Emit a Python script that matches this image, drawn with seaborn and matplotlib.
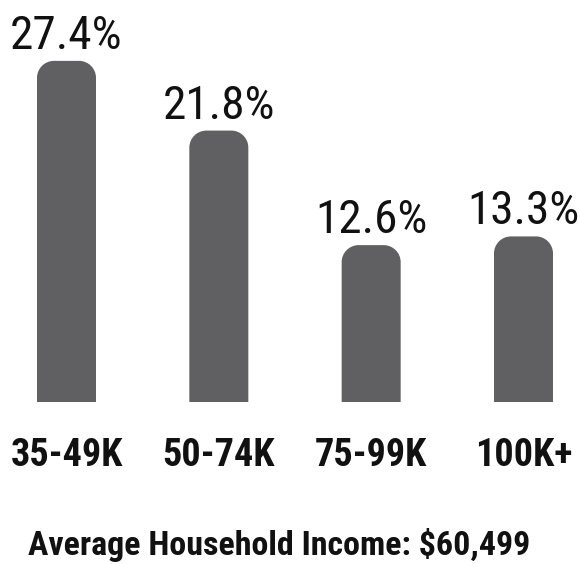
import matplotlib
matplotlib.use("Agg")
import matplotlib.pyplot as plt
from matplotlib.path import Path
from matplotlib.patches import PathPatch
import seaborn as sns

# Share of households by income bracket
categories = ["35-49K", "50-74K", "75-99K", "100K+"]
values = [27.4, 21.8, 12.6, 13.3]
value_labels = ["27.4%", "21.8%", "12.6%", "13.3%"]
footer = "Average Household Income: $60,499"

BAR_COLOR = "#606062"
TEXT_COLOR = "#111111"

sns.set_theme(style="white")
plt.rcParams["font.family"] = ["Roboto Condensed", "Fira Sans Condensed", "DejaVu Sans"]

W, H, DPI = 5.8, 5.64, 100
fig = plt.figure(figsize=(W, H), dpi=DPI)
fig.patch.set_facecolor("white")

# axes spans the full width; baseline sits 162 px above the bottom edge
base_px = 162
ax = fig.add_axes([0, base_px / (H * DPI), 1, 1 - base_px / (H * DPI)])

step_px = 152.33          # distance between bar centres
first_px = 66.5           # centre of the first bar
px_per_unit = 12.45       # vertical pixels per percentage point

sns.barplot(x=categories, y=values, color=BAR_COLOR, saturation=1,
            width=59 / step_px, ax=ax)

ax.set_xlim(-first_px / step_px, (W * DPI - first_px) / step_px)
ax.set_ylim(0, (H * DPI - base_px) / px_per_unit)

# replace the square bars with rounded-top shapes
rx = 17 / step_px
ry = 17 / px_per_unit
k = 0.5523
bars = list(ax.patches)
for p in bars:
    x0 = p.get_x()
    x1 = x0 + p.get_width()
    h = p.get_height()
    verts = [
        (x0, 0), (x0, h - ry),
        (x0, h - ry + k * ry), (x0 + rx - k * rx, h), (x0 + rx, h),
        (x1 - rx, h),
        (x1 - rx + k * rx, h), (x1, h - ry + k * ry), (x1, h - ry),
        (x1, 0), (x0, 0),
    ]
    codes = [Path.MOVETO, Path.LINETO,
             Path.CURVE4, Path.CURVE4, Path.CURVE4,
             Path.LINETO,
             Path.CURVE4, Path.CURVE4, Path.CURVE4,
             Path.LINETO, Path.CLOSEPOLY]
    ax.add_patch(PathPatch(Path(verts, codes), facecolor=BAR_COLOR,
                           edgecolor="none", linewidth=0))
    p.remove()

# value labels above each bar
for i, (v, lab) in enumerate(zip(values, value_labels)):
    ax.annotate(lab, xy=(i, v), xytext=(0, 12), textcoords="offset pixels",
                ha="center", va="baseline", fontsize=34, color=TEXT_COLOR)

# category labels under the bars
ax.set_xlabel("")
ax.set_ylabel("")
ax.set_yticks([])
ax.tick_params(axis="x", length=0, pad=35 * 0.72, labelsize=27.5,
               labelcolor=TEXT_COLOR)
for t in ax.get_xticklabels():
    t.set_fontweight("bold")
sns.despine(ax=ax, left=True, bottom=True)
ax.set_facecolor("none")

fig.text(279 / (W * DPI), 9 / (H * DPI), footer, ha="center", va="baseline",
         fontsize=24.5, fontweight="bold", color=TEXT_COLOR)

fig.savefig("out.png", dpi=DPI, facecolor="white")
